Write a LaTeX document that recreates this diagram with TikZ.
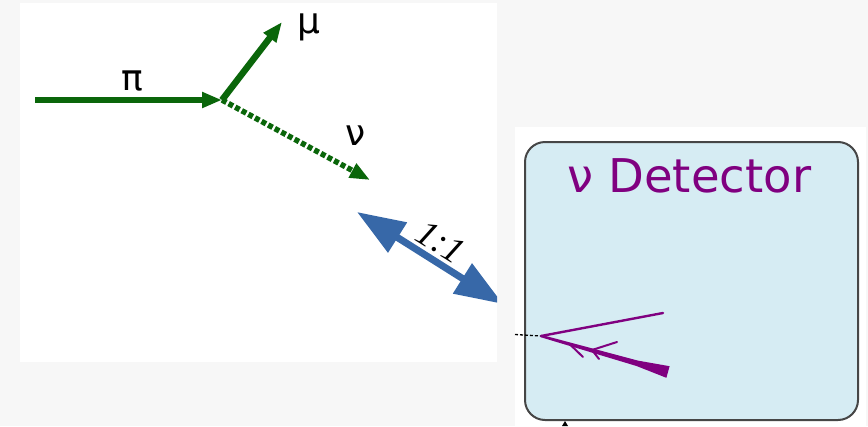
\documentclass[tikz,border=0pt]{standalone}
\usepackage{fontspec}
\setmainfont{DejaVu Sans}
\newfontfamily\ratiofont{Liberation Serif}
\usetikzlibrary{arrows.meta}
\definecolor{bggray}{RGB}{247,247,247}
\definecolor{pgreen}{RGB}{10,102,10}
\definecolor{pblue}{RGB}{55,104,168}
\definecolor{detfill}{RGB}{214,236,243}
\definecolor{detdraw}{RGB}{70,70,70}
\definecolor{ppurple}{RGB}{128,0,128}
\tikzset{
  lbl/.style={font=\fontsize{36}{36}\selectfont, inner sep=0pt, anchor=base},
  greenarrow/.style={draw=pgreen, line width=6.5pt, -{Triangle[length=20pt,width=15pt]}},
  track/.style={draw=ppurple, line width=2.4pt, line cap=round},
}
\begin{document}
\begin{tikzpicture}[x=1pt,y=-1pt]
\useasboundingbox (0,0) rectangle (868,426);
\fill[bggray] (0,0) rectangle (868,426);
\fill[white] (20,3) rectangle (497,362);
\fill[white] (515,127) rectangle (866,426);

% decay
\coordinate (P0) at (35,100);
\coordinate (V) at (222,100);
\coordinate (M) at (282,22);
\coordinate (N) at (370,180);
\draw[greenarrow] (P0) -- (V);
\draw[greenarrow] (V) -- (M);
\draw[greenarrow, line width=5.5pt, dash pattern=on 5pt off 2.5pt] (V) -- (N);
\node[lbl] (pi) at (132.5,90) {π};
\node[lbl] (mu) at (309,33) {μ};
\node[lbl] (nu) at (356,145) {ν};

% ratio arrow
\coordinate (B1) at (357,212);
\coordinate (B2) at (503,304);
\begin{scope}
\clip (0,0) rectangle (497,426);
\draw[pblue, line width=7pt, {Triangle[length=48pt,width=34pt]}-{Triangle[length=48pt,width=34pt]}] (B1) -- (B2);
\end{scope}
\node[inner sep=0pt, rotate=-32, font=\ratiofont\itshape\fontsize{37}{37}\selectfont] (ratio) at (441,242) {1:1};

% detector
\node[draw=detdraw, fill=detfill, line width=2pt, rounded corners=20pt, minimum width=333pt, minimum height=278pt, inner sep=0pt] (det) at (691.5,281) {};
\node[inner sep=0pt, anchor=base, text=ppurple, font=\fontsize{46.5}{46.5}\selectfont] (title) at (689.5,192) {ν Detector};

% event
\coordinate (X0) at (515,334.5);
\coordinate (X) at (541,336);
\coordinate (T1) at (663,313);
\draw[black, line width=1.3pt, dash pattern=on 3pt off 2pt] (X0) -- (X);
\draw[track] (X) -- (T1);
\fill[ppurple] (541.3,334.8) -- (637.9,360.6) -- (669.6,366.2) -- (666.4,377.8) -- (636.5,366.0) -- (540.7,337.2) -- cycle;
\draw[track, line width=2pt] (569,343.5) -- (583,357);
\draw[track, line width=2pt] (592,350) -- (599,359);
\draw[track, line width=2pt] (592,350) -- (617,342);

% small mark
\fill[black] (562,426) -- (565,421) -- (568,426) -- cycle;
\end{tikzpicture}
\end{document}
